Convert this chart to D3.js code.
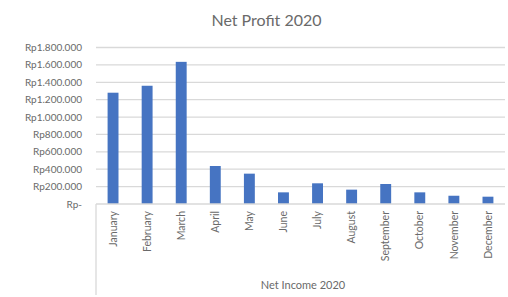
<!DOCTYPE html>
<html><head><meta charset="utf-8">
<script src="https://cdn.jsdelivr.net/npm/d3@7"></script>
<style>body{margin:0;background:#fff}text{font-family:Lato,"Open Sans",sans-serif}</style>
</head><body><svg id="c" width="508" height="297"></svg>
<script>
const months = ["January","February","March","April","May","June","July","August","September","October","November","December"];
const netProfit = [1280000,1360000,1635000,437000,349000,134000,238000,165000,230000,134000,95000,84000];
const yTicks = [0,200000,400000,600000,800000,1000000,1200000,1400000,1600000,1800000];
const title = "Net Profit 2020";
const axisTitle = "Net Income 2020";

const svg = d3.select("#c");
const m = {l:96, r:505, t:47.5, b:204};
const x = d3.scaleBand().domain(months).range([m.l, m.r]).paddingInner(0.68).paddingOuter(0.34);
const y = d3.scaleLinear().domain([0,1800000]).range([m.b, m.t]);
const fmt = v => v === 0 ? "Rp-" : "Rp" + d3.format(",")(v).replace(/,/g, ".");
const txt = "#6a6a6a";

svg.append("g").selectAll("line").data(yTicks.filter(d=>d>0)).join("line")
  .attr("x1", m.l).attr("x2", m.r).attr("y1", d=>y(d)).attr("y2", d=>y(d))
  .attr("stroke", "#d9d9d9").attr("stroke-width", 1.3);

svg.append("g").selectAll("text").data(yTicks).join("text")
  .attr("x", 82).attr("y", d=>y(d)).attr("dy", "0.35em").attr("text-anchor","end")
  .attr("font-size", 10).attr("fill", txt).text(fmt);

svg.append("g").selectAll("rect").data(months).join("rect")
  .attr("x", d=>x(d)).attr("width", x.bandwidth())
  .attr("y", (d,i)=>y(netProfit[i])).attr("height", (d,i)=>y(0)-y(netProfit[i]))
  .attr("fill", "#4674c2");

svg.append("line").attr("x1", m.l).attr("x2", m.r).attr("y1", m.b).attr("y2", m.b)
  .attr("stroke", "#d9d9d9").attr("stroke-width", 1.3);
svg.append("line").attr("x1", m.l).attr("x2", m.l).attr("y1", m.b).attr("y2", 295)
  .attr("stroke", "#d9d9d9").attr("stroke-width", 1.3);

svg.append("g").selectAll("text").data(months).join("text")
  .attr("transform", d=>`translate(${x(d)+x.bandwidth()/2},211) rotate(-90)`)
  .attr("dy", "0.35em").attr("text-anchor","end")
  .attr("font-size", 10.5).attr("fill", txt).text(d=>d);

svg.append("text").attr("x", 303).attr("y", 289).attr("text-anchor","middle")
  .attr("font-size", 11).attr("fill", txt).text(axisTitle);

svg.append("text").attr("x", 266.5).attr("y", 26).attr("text-anchor","middle")
  .attr("font-size", 16).attr("fill", txt).text(title);
</script></body></html>
